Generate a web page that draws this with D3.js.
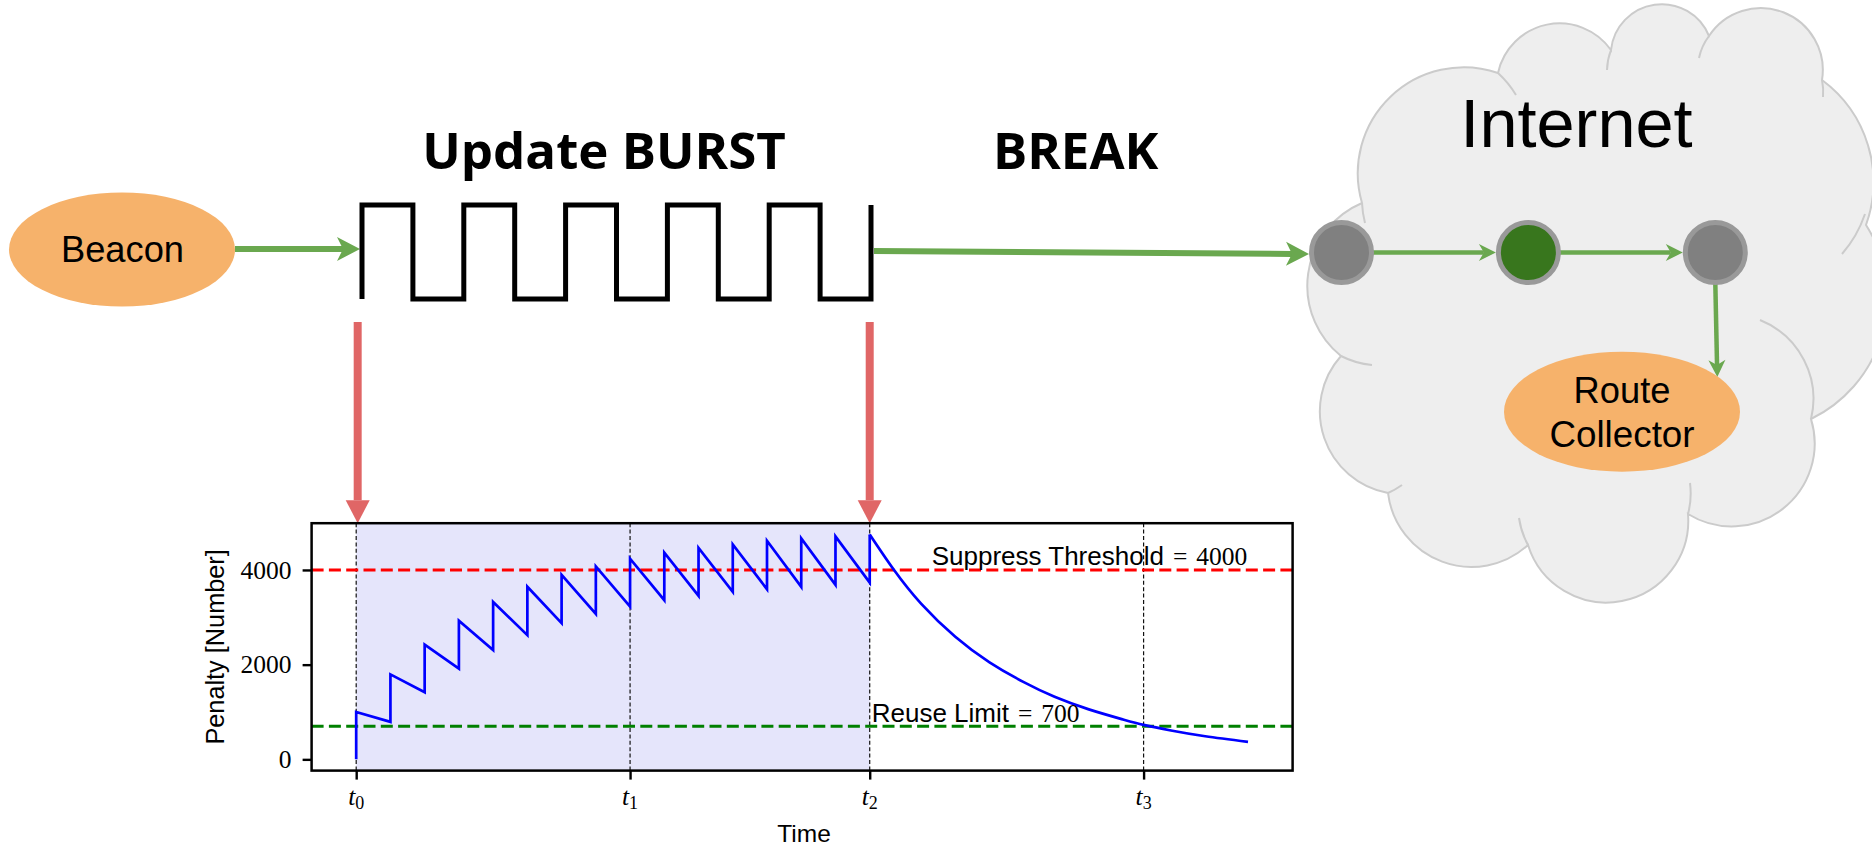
<!DOCTYPE html>
<html lang="en">
<head>
<meta charset="utf-8" />
<title>Route flap damping: update burst and penalty</title>
<script src="https://d3js.org/d3.v7.min.js"></script>
<style>
    body { margin: 0; background: #fff; }
    svg { display: block; }
</style>
</head>
<body>
<svg id="fig" width="1872" height="847"></svg>

<script>
    // ---- data ----
    // penalty plot: one update per time unit, penalty +1000 each
    const updateTimes = [0, 1, 2, 3, 4, 5, 6, 7, 8, 9, 10, 11, 12, 13, 14, 15];
    const peakValues = [1000, 1795, 2425, 2930, 3325, 3646, 3895, 4076, 4239, 4365, 4463, 4540, 4617, 4666, 4708, 4750];
    // value just before the next update arrives
    const troughValues = [792, 1417, 1915, 2308, 2624, 2876, 3073, 3228, 3361, 3453, 3537, 3592, 3642, 3684, 3733];
    // decay after the burst ends
    const decayTimes = [15, 15.7, 16.5, 17.5, 18.5, 19.5, 20.4, 21.4, 22.4, 23, 23.8, 24.8, 26.05];
    const decayValues = [4750, 4010, 3290, 2590, 2050, 1630, 1320, 1055, 842, 728, 610, 488, 370];

    const markTimes = [0, 8, 15, 23];
    const markNames = ["0", "1", "2", "3"];
    const yTicks = [0, 2000, 4000];
    const suppressThreshold = 4000;
    const reuseLimit = 700;
    const burstStart = 0, burstEnd = 15;

    // diagram
    const burstLevels = [1, 0, 1, 0, 1, 0, 1, 0, 1, 0];
    const routerFills = ["#808080", "#38761d", "#808080"];

    const SANS = "'Liberation Sans', Arial, sans-serif";
    const SERIF = "'Liberation Serif', 'Times New Roman', serif";
    const BOLD = "'Open Sans', 'Liberation Sans', sans-serif";
    const GREEN = "#6aa84f";
    const ORANGE = "#f6b26b";
    const RED_ARROW = "#e06666";

    const svg = d3.select("#fig");

    function arrow(g, x1, y1, x2, y2, o) {
        const a = Math.atan2(y2 - y1, x2 - x1);
        const back = o.head - o.notch;
        g.append("line")
            .attr("x1", x1).attr("y1", y1)
            .attr("x2", x2 - Math.cos(a) * back).attr("y2", y2 - Math.sin(a) * back)
            .attr("stroke", o.color)
            .attr("stroke-width", o.width);
        g.append("path")
            .attr("d", `M0,0L${-o.head},${-o.half}L${-(o.head - o.notch)},0L${-o.head},${o.half}Z`)
            .attr("transform", `translate(${x2},${y2}) rotate(${a * 180 / Math.PI})`)
            .attr("fill", o.color);
    }
    const bigGreen = { color: GREEN, width: 6, head: 23, half: 12, notch: 6 };
    const smallGreen = { color: GREEN, width: 4.5, head: 17, half: 8.5, notch: 5 };
    const redArrow = { color: RED_ARROW, width: 8, head: 23, half: 12, notch: 0 };

    // ---- cloud ----
    const cloudPts = [[1362, 203], [1498, 73], [1611, 50], [1709, 36], [1822, 80], [1866, 225],
        [1811, 419], [1688, 514], [1528, 545], [1388, 493], [1341, 356]];
    const cloudR = [106, 63, 51, 62, 127, 135, 83, 82, 84, 83, 90];
    let cd = `M${cloudPts[0][0]},${cloudPts[0][1]}`;
    cloudPts.forEach((p, i) => {
        const q = cloudPts[(i + 1) % cloudPts.length];
        cd += `A${cloudR[i]},${cloudR[i]} 0 0 1 ${q[0]},${q[1]}`;
    });
    const cloud = svg.append("g");
    cloud.append("path")
        .attr("d", cd + "Z")
        .attr("fill", "#eeeeee")
        .attr("stroke", "#cbcbcb")
        .attr("stroke-width", 2);
    const notches = [
        [1498, 73, 1516, 95, 100, 1], [1611, 50, 1607, 70, 60, 0], [1709, 36, 1699, 58, 55, 0],
        [1822, 80, 1823, 97, 60, 1], [1865, 214, 1842, 254, 120, 1], [1760, 320, 1811, 419, 85, 1],
        [1688, 514, 1690, 483, 80, 0], [1528, 545, 1519, 518, 80, 1], [1388, 493, 1402, 485, 80, 0],
        [1341, 356, 1372, 365, 85, 0], [1362, 203, 1365, 223, 100, 0]
    ];
    cloud.selectAll(".notch")
        .data(notches)
        .join("path")
        .attr("d", d => `M${d[0]},${d[1]}A${d[4]},${d[4]} 0 0 ${d[5]} ${d[2]},${d[3]}`)
        .attr("fill", "none")
        .attr("stroke", "#cbcbcb")
        .attr("stroke-width", 2);

    svg.append("text")
        .attr("x", 1576.5).attr("y", 147.3)
        .attr("text-anchor", "middle")
        .style("font", `68.5px ${SANS}`)
        .text("Internet");

    // routers
    const routerX = d3.scalePoint().domain(d3.range(routerFills.length)).range([1341.5, 1715.3]);
    const routerY = 252.5, routerR = 30;
    const links = svg.append("g");
    arrow(links, routerX(0) + routerR, routerY, routerX(1) - routerR - 2.5, routerY, smallGreen);
    arrow(links, routerX(1) + routerR, routerY, routerX(2) - routerR - 2.5, routerY, smallGreen);
    arrow(links, routerX(2), routerY + routerR, routerX(2) + 2, 377, smallGreen);

    svg.append("g")
        .selectAll("circle")
        .data(routerFills)
        .join("circle")
        .attr("cx", (d, i) => routerX(i))
        .attr("cy", routerY)
        .attr("r", routerR)
        .attr("fill", d => d)
        .attr("stroke", "#999999")
        .attr("stroke-width", 5);

    // route collector
    svg.append("ellipse")
        .attr("cx", 1622).attr("cy", 411.7).attr("rx", 118).attr("ry", 60)
        .attr("fill", ORANGE);
    svg.append("text")
        .attr("x", 1622).attr("y", 402.7)
        .attr("text-anchor", "middle")
        .style("font", `36.3px ${SANS}`)
        .text("Route");
    svg.append("text")
        .attr("x", 1622).attr("y", 447.3)
        .attr("text-anchor", "middle")
        .style("font", `36.8px ${SANS}`)
        .text("Collector");

    // ---- beacon and burst ----
    svg.append("ellipse")
        .attr("cx", 122).attr("cy", 249.5).attr("rx", 113).attr("ry", 57)
        .attr("fill", ORANGE);
    svg.append("text")
        .attr("x", 122.5).attr("y", 261.7)
        .attr("text-anchor", "middle")
        .style("font", `36.3px ${SANS}`)
        .text("Beacon");

    arrow(svg, 235, 249, 360, 249, bigGreen);
    arrow(svg, 874, 251, 1309, 254, bigGreen);

    const waveX = d3.scaleLinear().domain([0, burstLevels.length]).range([362, 871]);
    const waveY = d3.scaleLinear().domain([0, 1]).range([299, 205]);
    const wavePts = [[0, 0]].concat(burstLevels.map((v, i) => [i, v]), [[burstLevels.length, 1]]);
    svg.append("path")
        .attr("d", d3.line().x(d => waveX(d[0])).y(d => waveY(d[1])).curve(d3.curveStepAfter)(wavePts))
        .attr("fill", "none")
        .attr("stroke", "#000")
        .attr("stroke-width", 5)
        .attr("stroke-linejoin", "miter");

    svg.append("text")
        .attr("x", 604).attr("y", 169.3)
        .attr("text-anchor", "middle")
        .style("font", `700 51px ${BOLD}`)
        .text("Update BURST");
    svg.append("text")
        .attr("x", 1075.7).attr("y", 168.5)
        .attr("text-anchor", "middle")
        .style("font", `700 51px ${BOLD}`)
        .text("BREAK");

    // ---- penalty plot ----
    const box = { left: 311.6, right: 1292.6, top: 523.2, bottom: 770.6 };
    const tMax = d3.max(decayTimes), vMax = d3.max(peakValues);
    const x = d3.scaleLinear()
        .domain([-0.05 * tMax, tMax * 1.05])
        .range([box.left, box.right]);
    const y = d3.scaleLinear()
        .domain([-0.05 * vMax, vMax * 1.05])
        .range([box.bottom, box.top]);

    // arrows from the burst edges down to the plot
    arrow(svg, x(burstStart) + 1.5, 322, x(burstStart) + 1.5, box.top, redArrow);
    arrow(svg, x(burstEnd), 322, x(burstEnd), box.top, redArrow);

    const plot = svg.append("g");
    plot.append("rect")
        .attr("x", x(burstStart)).attr("y", box.top)
        .attr("width", x(burstEnd) - x(burstStart)).attr("height", box.bottom - box.top)
        .attr("fill", "#e5e5fb");

    plot.selectAll(".vmark")
        .data(markTimes)
        .join("line")
        .attr("x1", d => x(d)).attr("x2", d => x(d))
        .attr("y1", box.top).attr("y2", box.bottom)
        .attr("stroke", "#111")
        .attr("stroke-width", 1.2)
        .attr("stroke-dasharray", "4,2.4");

    [[suppressThreshold, "#ff0000"], [reuseLimit, "#008000"]].forEach(([v, c]) => {
        plot.append("line")
            .attr("x1", box.left).attr("x2", box.right)
            .attr("y1", y(v)).attr("y2", y(v))
            .attr("stroke", c)
            .attr("stroke-width", 3)
            .attr("stroke-dasharray", "12,5.3");
    });

    const sawPts = [{ t: updateTimes[0], v: 0 }];
    updateTimes.forEach((t, i) => {
        if (i > 0) sawPts.push({ t: t, v: troughValues[i - 1] });
        sawPts.push({ t: t, v: peakValues[i] });
    });
    const decayPts = decayTimes.map((t, i) => ({ t: t, v: decayValues[i] }));

    plot.append("path")
        .attr("d", d3.line().x(d => x(d.t)).y(d => y(d.v))(sawPts))
        .attr("fill", "none")
        .attr("stroke", "#0000ff")
        .attr("stroke-width", 2.7);
    plot.append("path")
        .attr("d", d3.line().x(d => x(d.t)).y(d => y(d.v)).curve(d3.curveNatural)(decayPts))
        .attr("fill", "none")
        .attr("stroke", "#0000ff")
        .attr("stroke-width", 2.7);

    // annotations
    function note(tx, baseline, label, num) {
        const t = plot.append("text")
            .attr("x", tx).attr("y", baseline)
            .style("font", `26px ${SANS}`);
        t.append("tspan").text(label);
        t.append("tspan").attr("dx", 9).style("font", `25.5px ${SERIF}`).text("=");
        t.append("tspan").attr("dx", 9).style("font", `25.5px ${SERIF}`).text(num);
    }
    note(931.7, y(suppressThreshold) - 5, "Suppress Threshold", suppressThreshold);
    note(871.7, y(reuseLimit) - 4.3, "Reuse Limit", reuseLimit);

    // axes
    const yAxis = plot.append("g")
        .attr("transform", `translate(${box.left},0)`)
        .call(d3.axisLeft(y).tickValues(yTicks).tickSize(9).tickPadding(11).tickFormat(d3.format("d")));
    yAxis.select(".domain").remove();
    yAxis.selectAll(".tick line").attr("stroke", "#000").attr("stroke-width", 2.4);
    yAxis.selectAll(".tick text")
        .style("font", `25.5px ${SERIF}`)
        .attr("fill", "#000");

    const xAxis = plot.append("g")
        .attr("transform", `translate(0,${box.bottom})`)
        .call(d3.axisBottom(x).tickValues(markTimes).tickSize(9).tickFormat(""));
    xAxis.select(".domain").remove();
    xAxis.selectAll(".tick line").attr("stroke", "#000").attr("stroke-width", 2.4);

    const tLabels = plot.append("g")
        .selectAll("text")
        .data(markTimes)
        .join("text")
        .attr("x", d => x(d))
        .attr("y", 805)
        .attr("text-anchor", "middle")
        .style("font", `italic 25.5px ${SERIF}`);
    tLabels.append("tspan").text("t");
    tLabels.append("tspan")
        .attr("dy", 3.5)
        .style("font", `18px ${SERIF}`)
        .text((d, i) => markNames[i]);

    plot.append("rect")
        .attr("x", box.left).attr("y", box.top)
        .attr("width", box.right - box.left).attr("height", box.bottom - box.top)
        .attr("fill", "none")
        .attr("stroke", "#000")
        .attr("stroke-width", 2.5);

    plot.append("text")
        .attr("x", (box.left + box.right) / 2 + 2)
        .attr("y", 841.7)
        .attr("text-anchor", "middle")
        .style("font", `24.5px ${SANS}`)
        .text("Time");

    plot.append("text")
        .attr("transform", `translate(224,${(box.top + box.bottom) / 2}) rotate(-90)`)
        .attr("text-anchor", "middle")
        .style("font", `25.3px ${SANS}`)
        .text("Penalty [Number]");
</script>
</body>
</html>
